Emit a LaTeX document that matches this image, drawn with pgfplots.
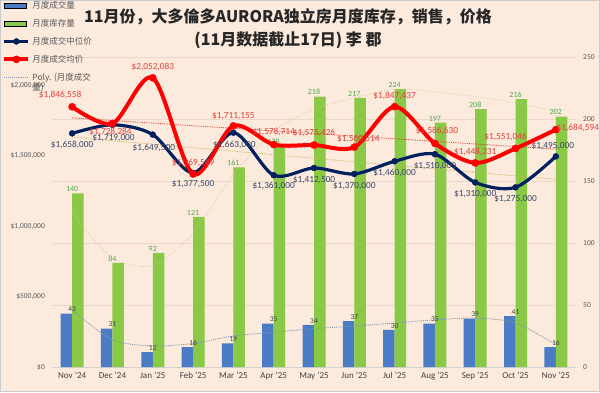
\documentclass[border=0pt]{standalone}
\usepackage{pgfplots}
\pgfplotsset{compat=1.18}
\usepackage{fontspec}
\setmainfont{Carlito}
\newfontfamily\cjk{Noto Sans CJK SC}
\definecolor{bg}{RGB}{252,234,221}
\definecolor{barblue}{RGB}{74,123,196}
\definecolor{bargreen}{RGB}{138,201,70}
\definecolor{navy}{RGB}{0,32,96}
\definecolor{redl}{RGB}{255,0,0}
\definecolor{redlab}{RGB}{226,64,56}
\definecolor{navylab}{RGB}{58,72,104}
\definecolor{greenlab}{RGB}{80,170,80}
\definecolor{ticklab}{RGB}{89,89,89}
\definecolor{xlab}{RGB}{64,64,64}
\definecolor{gridc}{RGB}{236,216,202}
\definecolor{voltrend}{RGB}{132,151,176}
\definecolor{invtrend}{RGB}{205,200,150}
\definecolor{medtrend}{RGB}{200,180,90}
\definecolor{avgtrend}{RGB}{220,50,40}
\pgfplotsset{
  barleg/.style={legend image code/.code={\fill[##1] (0pt,-2.5pt) rectangle (22pt,2.5pt);}},
  lineleg/.style={legend image code/.code={\draw[mark repeat=2,mark phase=2,##1] plot coordinates {(0pt,0pt) (12pt,0pt) (24pt,0pt)};}},
}
\begin{document}
\begin{tikzpicture}[x=1pt,y=1pt]
\fill[bg] (0,0) rectangle (600,392);
\draw[gray!40, line width=0.6pt] (0.3,0.3) rectangle (599.7,391.7);

% ---------- bars on the right axis ----------
\begin{axis}[
  at={(52pt,25pt)}, anchor=south west, scale only axis, width=524pt, height=310pt,
  xmin=-0.5, xmax=12.5, ymin=0, ymax=250,
  axis y line*=right, axis x line*=bottom,
  y axis line style={draw=none}, x axis line style={draw=gray!35, -},
  major tick length=0pt,
  xtick={0,...,12},
  xticklabels={Nov '24,Dec '24,Jan '25,Feb '25,Mar '25,Apr '25,May '25,Jun '25,Jul '25,Aug '25,Sep '25,Oct '25,Nov '25},
  ytick={0,50,...,250},
  ymajorgrids, grid style={gridc, line width=0.6pt},
  yticklabel style={font=\fontsize{7.5}{8}\selectfont, text=ticklab, anchor=west, inner sep=0pt, xshift=7pt},
  xticklabel style={font=\fontsize{9}{10}\selectfont, text=xlab, yshift=-2pt},
  /pgf/number format/assume math mode=true,
  clip=false,
]
\addplot[ybar, bar width=11.5pt, bar shift=-5.75pt, fill=barblue, draw=none,
  nodes near coords, nodes near coords style={font=\fontsize{7.5}{8}\selectfont, text=xlab, inner sep=1.5pt}]
  coordinates {(0,43) (1,31) (2,12) (3,16) (4,19) (5,35) (6,34) (7,37) (8,30) (9,35) (10,39) (11,41) (12,16)};
\addplot[ybar, bar width=11.5pt, bar shift=5.75pt, fill=bargreen, draw=none,
  nodes near coords, nodes near coords style={font=\fontsize{8}{9}\selectfont, text=greenlab, inner sep=1.5pt}]
  coordinates {(0,140) (1,84) (2,92) (3,121) (4,161) (5,178) (6,218) (7,217) (8,224) (9,197) (10,208) (11,216) (12,202)};
% polynomial trend of volume
\addplot[voltrend, densely dotted, line width=0.9pt, smooth] coordinates {
  (0,46) (1,22) (2,17) (3,19) (4,25) (5,28) (6,31) (7,33) (8,35.5) (9,38) (10,39.5) (11,35.5) (12,18)};
% polynomial trend of inventory
\addplot[invtrend, dotted, line width=0.8pt, smooth] coordinates {
  (0,124) (1,88) (2,82) (3,108) (4,155) (5,190) (6,208) (7,217) (8,224) (9,222) (10,218) (11,213) (12,206)};
\end{axis}

% ---------- prices on the left axis ----------
\begin{axis}[
  at={(52pt,25pt)}, anchor=south west, scale only axis, width=524pt, height=310pt,
  xmin=-0.5, xmax=12.5, ymin=0, ymax=2200000,
  axis y line*=left, axis x line=none,
  y axis line style={draw=none},
  major tick length=0pt,
  ytick={0,500000,1000000,1500000,2000000},
  scaled y ticks=false,
  yticklabel={\$\pgfmathprintnumber[fixed,precision=0,1000 sep={,}]{\tick}},
  yticklabel style={font=\fontsize{7.5}{8}\selectfont, text=ticklab, anchor=east, inner sep=0pt, xshift=-7pt},
  /pgf/number format/assume math mode=true,
  clip=false,
  legend style={at={(axis description cs:-0.097,1.19)}, anchor=north west, draw=none, fill=none,
    font=\cjk\fontsize{8.5}{10}\selectfont, text=ticklab, row sep=5.2pt, inner sep=1pt,
    cells={anchor=west}},
  legend cell align=left,
]
\addlegendimage{barleg, fill=barblue}
\addlegendentry{月度成交量}
\addlegendimage{barleg, fill=bargreen}
\addlegendentry{月度库存量}

% linear trends
\addplot[avgtrend, densely dotted, line width=0.8pt, forget plot] coordinates {(0,1767900) (12,1545900)};
\addplot[medtrend, densely dotted, line width=0.8pt, forget plot] coordinates {(0,1631600) (12,1331400)};

\addplot[navy, line width=3.2pt, smooth, mark=*, mark size=3pt,
  mark options={fill=navy, draw=navy, line width=0.4pt}, lineleg,
  point meta=explicit symbolic,
  visualization depends on={\thisrow{dx}\as\lblx},
  visualization depends on={\thisrow{dy}\as\lbly},
  nodes near coords={\$\pgfplotspointmeta},
  every node near coord/.append style={anchor=center, xshift=\lblx pt, yshift=\lbly pt,
    font=\fontsize{9.3}{10}\selectfont, text=navylab, inner sep=0pt}]
table[x=x, y=y, meta=lab] {
x y lab dx dy
0 1658000 1,658,000 0 -12
1 1719000 1,719,000 1 -13
2 1649500 1,649,500 1 -13
3 1377500 1,377,500 0 -11
4 1663000 1,663,000 1 -12
5 1361000 1,361,000 0 -11
6 1412500 1,412,500 0 -12
7 1370000 1,370,000 0 -12
8 1460000 1,460,000 0 -12
9 1510000 1,510,000 0 -12
10 1310000 1,310,000 0 -12
11 1275000 1,275,000 0 -12
12 1495000 1,495,000 -3 10
};
\addlegendentry{月度成交中位价}

\addplot[redl, line width=4pt, smooth, mark=*, mark size=3.6pt,
  mark options={fill=redl, draw=redl, line width=0.4pt}, lineleg,
  point meta=explicit symbolic,
  visualization depends on={\thisrow{dx}\as\lblx},
  visualization depends on={\thisrow{dy}\as\lbly},
  nodes near coords={\$\pgfplotspointmeta},
  every node near coord/.append style={anchor=center, xshift=\lblx pt, yshift=\lbly pt,
    font=\fontsize{9.3}{10}\selectfont, text=redlab, inner sep=0pt}]
table[x=x, y=y, meta=lab] {
x y lab dx dy
0 1846558 1,846,558 -12 12
1 1728284 1,728,284 -2 -8
2 2052083 2,052,083 0 11
3 1369549 1,369,549 0 11
4 1711155 1,711,155 0 10
5 1578714 1,578,714 0 13
6 1575426 1,575,426 0 12
7 1560514 1,560,514 4 8
8 1847437 1,847,437 0 11
9 1586630 1,586,630 2 13
10 1448231 1,448,231 0 11
11 1551046 1,551,046 -10 11
12 1684594 1,684,594 22 2
};
\addlegendentry{月度成交均价}

\addlegendimage{lineleg, voltrend, densely dotted, line width=0.9pt}
\addlegendentry{\parbox[t]{60pt}{Poly. (月度成交\\量)}}
\end{axis}

\node[font=\cjk\bfseries\fontsize{16}{18}\selectfont, text=black!85] at (288,375) {11月份，大多倫多AURORA独立房月度库存，销售，价格};
\node[font=\cjk\bfseries\fontsize{16}{18}\selectfont, text=black!85] at (288,352) {(11月数据截止17日) 李 郡};

\pgfresetboundingbox
\useasboundingbox (0,0) rectangle (600,392);
\end{tikzpicture}
\end{document}
